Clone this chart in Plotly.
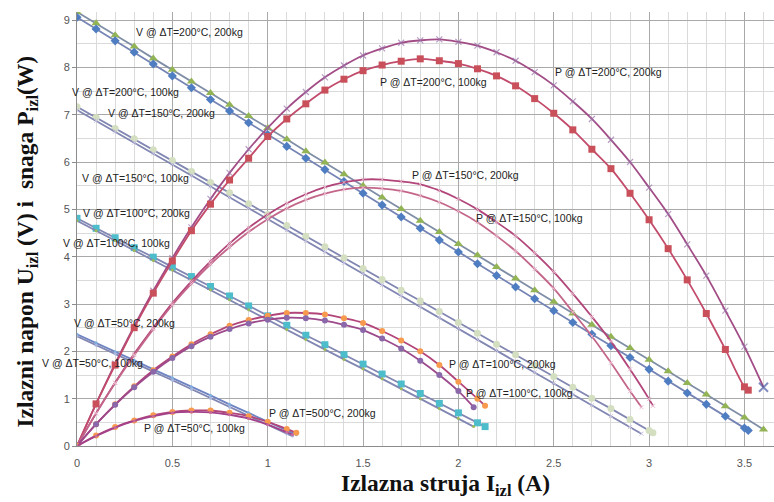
import plotly.graph_objects as go

# Output current (A) sample points for each measurement series
I_200_200 = [0, 0.1, 0.2, 0.3, 0.4, 0.5, 0.6, 0.7, 0.8, 0.9, 1.0, 1.1, 1.2, 1.3, 1.4, 1.5, 1.6, 1.7, 1.8,
             1.9, 2.0, 2.1, 2.2, 2.3, 2.4, 2.5, 2.6, 2.7, 2.8, 2.9, 3.0, 3.1, 3.2, 3.3, 3.4, 3.5, 3.6]
I_200_100 = [0, 0.1, 0.2, 0.3, 0.4, 0.5, 0.6, 0.7, 0.8, 0.9, 1.0, 1.1, 1.2, 1.3, 1.4, 1.5, 1.6, 1.7, 1.8,
             1.9, 2.0, 2.1, 2.2, 2.3, 2.4, 2.5, 2.6, 2.7, 2.8, 2.9, 3.0, 3.1, 3.2, 3.3, 3.4, 3.5, 3.52]
I_150_200 = [0, 0.1, 0.2, 0.3, 0.4, 0.5, 0.6, 0.7, 0.8, 0.9, 1.0, 1.1, 1.2, 1.3, 1.4, 1.5, 1.6, 1.7, 1.8,
             1.9, 2.0, 2.1, 2.2, 2.3, 2.4, 2.5, 2.6, 2.7, 2.8, 2.9, 3.0, 3.02]
I_150_100 = [0, 0.1, 0.2, 0.3, 0.4, 0.5, 0.6, 0.7, 0.8, 0.9, 1.0, 1.1, 1.2, 1.3, 1.4, 1.5, 1.6, 1.7, 1.8,
             1.9, 2.0, 2.1, 2.2, 2.3, 2.4, 2.5, 2.6, 2.7, 2.8, 2.9, 2.96]
I_100_200 = [0, 0.1, 0.2, 0.3, 0.4, 0.5, 0.6, 0.7, 0.8, 0.9, 1.0, 1.1, 1.2, 1.3, 1.4, 1.5, 1.6, 1.7, 1.8,
             1.9, 2.0, 2.1, 2.14]
I_100_100 = [0, 0.1, 0.2, 0.3, 0.4, 0.5, 0.6, 0.7, 0.8, 0.9, 1.0, 1.1, 1.2, 1.3, 1.4, 1.5, 1.6, 1.7, 1.8,
             1.9, 2.0, 2.08]
I_50_200 = [0, 0.1, 0.2, 0.3, 0.4, 0.5, 0.6, 0.7, 0.8, 0.9, 1.0, 1.1, 1.15]
I_50_100 = [0, 0.1, 0.2, 0.3, 0.4, 0.5, 0.6, 0.7, 0.8, 0.9, 1.0, 1.1, 1.13]

# Output voltage (V)
V_200_200 = [9.17, 8.93, 8.68, 8.44, 8.19, 7.95, 7.70, 7.46, 7.21, 6.97, 6.72, 6.48, 6.23, 5.99, 5.74, 5.50,
             5.25, 5.01, 4.76, 4.52, 4.27, 4.03, 3.78, 3.54, 3.29, 3.05, 2.80, 2.56, 2.31, 2.07, 1.82, 1.58,
             1.33, 1.09, 0.84, 0.60, 0.35]
V_200_100 = [9.06, 8.81, 8.56, 8.32, 8.07, 7.82, 7.57, 7.32, 7.08, 6.83, 6.58, 6.33, 6.08, 5.84, 5.59, 5.34,
             5.09, 4.84, 4.60, 4.35, 4.10, 3.85, 3.60, 3.36, 3.11, 2.86, 2.61, 2.36, 2.12, 1.87, 1.62, 1.37,
             1.12, 0.88, 0.63, 0.38, 0.33]
V_150_200 = [7.17, 6.94, 6.71, 6.49, 6.26, 6.03, 5.80, 5.57, 5.35, 5.12, 4.89, 4.66, 4.43, 4.21, 3.98, 3.75,
             3.52, 3.29, 3.07, 2.84, 2.61, 2.38, 2.15, 1.93, 1.70, 1.47, 1.24, 1.01, 0.79, 0.56, 0.33, 0.28]
V_150_100 = [7.10, 6.87, 6.64, 6.41, 6.18, 5.95, 5.71, 5.48, 5.25, 5.02, 4.79, 4.56, 4.33, 4.10, 3.87, 3.64,
             3.40, 3.17, 2.94, 2.71, 2.48, 2.25, 2.02, 1.79, 1.56, 1.33, 1.09, 0.86, 0.63, 0.40, 0.26]
V_100_200 = [4.81, 4.60, 4.40, 4.19, 3.99, 3.78, 3.58, 3.37, 3.17, 2.96, 2.75, 2.55, 2.34, 2.14, 1.93, 1.73,
             1.52, 1.31, 1.11, 0.90, 0.70, 0.49, 0.41]
V_100_100 = [4.76, 4.55, 4.34, 4.13, 3.92, 3.72, 3.51, 3.30, 3.09, 2.88, 2.67, 2.46, 2.25, 2.04, 1.83, 1.63,
             1.42, 1.21, 1.00, 0.79, 0.58, 0.41]
V_50_200 = [2.36, 2.18, 1.99, 1.81, 1.62, 1.44, 1.25, 1.07, 0.88, 0.70, 0.51, 0.33, 0.24]
V_50_100 = [2.32, 2.13, 1.95, 1.76, 1.57, 1.39, 1.20, 1.01, 0.82, 0.64, 0.45, 0.26, 0.21]

# Output power (W)
P_200_200 = [0, 0.89, 1.74, 2.53, 3.28, 3.97, 4.62, 5.22, 5.77, 6.27, 6.72, 7.13, 7.48, 7.79, 8.04, 8.25,
             8.40, 8.52, 8.57, 8.59, 8.54, 8.46, 8.32, 8.14, 7.90, 7.62, 7.28, 6.91, 6.47, 6.00, 5.46, 4.90,
             4.26, 3.60, 2.86, 2.10, 1.24]
P_200_100 = [0, 0.89, 1.71, 2.50, 3.23, 3.91, 4.55, 5.11, 5.62, 6.08, 6.54, 6.91, 7.23, 7.52, 7.75, 7.93,
             8.05, 8.13, 8.18, 8.14, 8.08, 7.97, 7.82, 7.61, 7.34, 7.03, 6.68, 6.27, 5.86, 5.34, 4.78, 4.17,
             3.51, 2.80, 2.04, 1.25, 1.18]
P_150_200 = [0, 0.69, 1.34, 1.95, 2.50, 3.02, 3.48, 3.90, 4.28, 4.61, 4.89, 5.13, 5.32, 5.47, 5.57, 5.63,
             5.63, 5.59, 5.53, 5.40, 5.22, 5.00, 4.73, 4.44, 4.08, 3.68, 3.22, 2.73, 2.21, 1.62, 0.99, 0.85]
P_150_100 = [0, 0.69, 1.33, 1.92, 2.47, 2.98, 3.43, 3.84, 4.20, 4.52, 4.79, 5.02, 5.20, 5.33, 5.42, 5.46,
             5.44, 5.39, 5.29, 5.15, 4.96, 4.73, 4.44, 4.12, 3.74, 3.33, 2.83, 2.32, 1.76, 1.16, 0.82]
P_100_200 = [0, 0.46, 0.88, 1.26, 1.60, 1.89, 2.15, 2.36, 2.54, 2.66, 2.75, 2.81, 2.81, 2.78, 2.70, 2.60,
             2.43, 2.23, 2.00, 1.71, 1.36, 1.00, 0.85]
P_100_100 = [0, 0.46, 0.87, 1.24, 1.57, 1.86, 2.11, 2.31, 2.47, 2.59, 2.67, 2.71, 2.70, 2.65, 2.56, 2.45,
             2.27, 2.06, 1.80, 1.50, 1.16, 0.82]
P_50_200 = [0, 0.22, 0.40, 0.54, 0.65, 0.72, 0.75, 0.75, 0.70, 0.63, 0.51, 0.36, 0.28]
P_50_100 = [0, 0.21, 0.39, 0.53, 0.63, 0.70, 0.72, 0.71, 0.66, 0.58, 0.45, 0.29, 0.24]

# Curve labels: text and anchor point (current, value)
LABELS = [
    ("V @ ΔT=200°C, 200kg", 0.59, 8.75),
    ("V @ ΔT=200°C, 100kg", 0.255, 7.48),
    ("V @ ΔT=150°C, 200kg", 0.444, 7.04),
    ("V @ ΔT=150°C, 100kg", 0.308, 5.66),
    ("V @ ΔT=100°C, 200kg", 0.313, 4.92),
    ("V @ ΔT=100°C, 100kg", 0.208, 4.29),
    ("V @ ΔT=50°C, 200kg", 0.25, 2.60),
    ("V @ ΔT=50°C, 100kg", 0.082, 1.75),
    ("P @ ΔT=50°C, 100kg", 0.617, 0.38),
    ("P @ ΔT=500°C, 200kg", 1.288, 0.70),
    ("P @ ΔT=100°C, 200kg", 2.231, 1.73),
    ("P @ ΔT=100°C, 100kg", 2.32, 1.12),
    ("P @ ΔT=150°C, 200kg", 2.037, 5.73),
    ("P @ ΔT=150°C, 100kg", 2.373, 4.82),
    ("P @ ΔT=200°C, 100kg", 1.87, 7.69),
    ("P @ ΔT=200°C, 200kg", 2.787, 7.90),
]

X_TICKS = [0, 0.5, 1, 1.5, 2, 2.5, 3, 3.5]
X_TICK_TEXT = ["0", "0.5", "1", "1.5", "2", "2.5", "3", "3.5"]
Y_TICKS = [0, 1, 2, 3, 4, 5, 6, 7, 8, 9]

V_LINE = "#8186b2"
P_LINE = "#b2457a"

fig = go.Figure()


def add(x, y, line_color, marker, shape="linear", width=1.8):
    fig.add_trace(go.Scatter(
        x=x, y=y, mode="lines+markers",
        line=dict(color=line_color, width=width, shape=shape, smoothing=1.0),
        marker=marker, showlegend=False, hoverinfo="x+y",
    ))


# voltage lines
add(I_200_200, V_200_200, "#7f8ea6", dict(symbol="triangle-up", size=8, color="#93b455"))
add(I_200_100, V_200_100, "#7584b4", dict(symbol="diamond", size=7, color="#4f7dc2"))
add(I_150_200, V_150_200, V_LINE, dict(symbol="circle", size=7, color="#d3dfc0"))
add(I_150_100, V_150_100, V_LINE, dict(symbol="x-thin", size=4, line=dict(width=1, color="#c9c4e2")))
add(I_100_200, V_100_200, V_LINE, dict(symbol="square", size=7, color="#4dbccb"))
add(I_100_100, V_100_100, V_LINE, dict(symbol="circle", size=3, color="#9bbb59"))
add(I_50_200, V_50_200, "#6f84c2", dict(symbol="circle", size=3, color="#7fb2e2"))
add(I_50_100, V_50_100, V_LINE, dict(symbol="circle", size=3, color="#a8b8e0"))

# power curves
n = len(I_200_200)
add(I_200_200, P_200_200, "#a24c86",
    dict(symbol="x-thin", size=[6] * (n - 1) + [9],
         line=dict(width=[1.2] * (n - 1) + [2], color=["#9a72aa"] * (n - 1) + ["#4b5ca4"])),
    shape="spline")
add(I_200_100, P_200_100, "#c24b6b", dict(symbol="square", size=7, color="#c9505a"), shape="spline")
add(I_150_200, P_150_200, P_LINE, dict(symbol="x-thin", size=4, line=dict(width=1, color="#e6b3c8")), shape="spline")
add(I_150_100, P_150_100, "#c4668a", dict(symbol="x-thin", size=4, line=dict(width=1, color="#ecbcd0")), shape="spline")
add(I_100_200, P_100_200, P_LINE, dict(symbol="circle", size=6, color="#f79a4e"), shape="spline")
add(I_100_100, P_100_100, "#9c4a8c", dict(symbol="circle", size=6, color="#8a68aa"), shape="spline")
add(I_50_200, P_50_200, P_LINE, dict(symbol="circle", size=6, color="#f79a4e"), shape="spline")
add(I_50_100, P_50_100, "#a3418a", dict(symbol="circle", size=3, color="#c86a9a"), shape="spline")

for text, lx, ly in LABELS:
    fig.add_annotation(x=lx, y=ly, text=text, showarrow=False, xanchor="center", yanchor="middle",
                       font=dict(family="Liberation Sans, Arial, sans-serif", size=10.5, color="#222222"))

fig.add_annotation(xref="paper", yref="paper", x=-0.071, y=0.47, textangle=-90, showarrow=False,
                   xanchor="center", yanchor="middle",
                   text="<b>Izlazni napon U<sub>izl</sub> (V) i  snaga P<sub>izl</sub>(W)</b>",
                   font=dict(family="Liberation Serif, Times New Roman, serif", size=23.5, color="#111111"))
fig.add_annotation(xref="paper", yref="paper", x=0.528, y=-0.1267, showarrow=False,
                   xanchor="center", yanchor="bottom", borderpad=0,
                   text="<b>Izlazna struja I<sub>izl</sub> (A)</b>",
                   font=dict(family="Liberation Serif, Times New Roman, serif", size=23.5, color="#111111"))

fig.update_xaxes(range=[0, 3.655], tickvals=X_TICKS, ticktext=X_TICK_TEXT,
                 showgrid=True, gridcolor="#a9a9a9", gridwidth=1,
                 minor=dict(dtick=0.1, tick0=0, showgrid=True, gridcolor="#dadada", gridwidth=1),
                 showline=True, linecolor="#8c8c8c", zeroline=False,
                 tickfont=dict(family="Liberation Sans, Arial, sans-serif", size=11, color="#555555"),
                 ticks="", ticklabelstandoff=7)
fig.update_yaxes(range=[0, 9.17], tickvals=Y_TICKS,
                 showgrid=True, gridcolor="#a9a9a9", gridwidth=1,
                 minor=dict(dtick=0.5, tick0=0, showgrid=True, gridcolor="#dadada", gridwidth=1),
                 showline=True, linecolor="#8c8c8c", zeroline=False,
                 ticks="outside", ticklen=4, tickcolor="#8c8c8c",
                 tickfont=dict(family="Liberation Sans, Arial, sans-serif", size=11, color="#555555"))

fig.update_layout(width=774, height=502, margin=dict(l=77, r=0, t=12, b=56),
                  paper_bgcolor="white", plot_bgcolor="white", showlegend=False)

fig.write_html("out.html")
